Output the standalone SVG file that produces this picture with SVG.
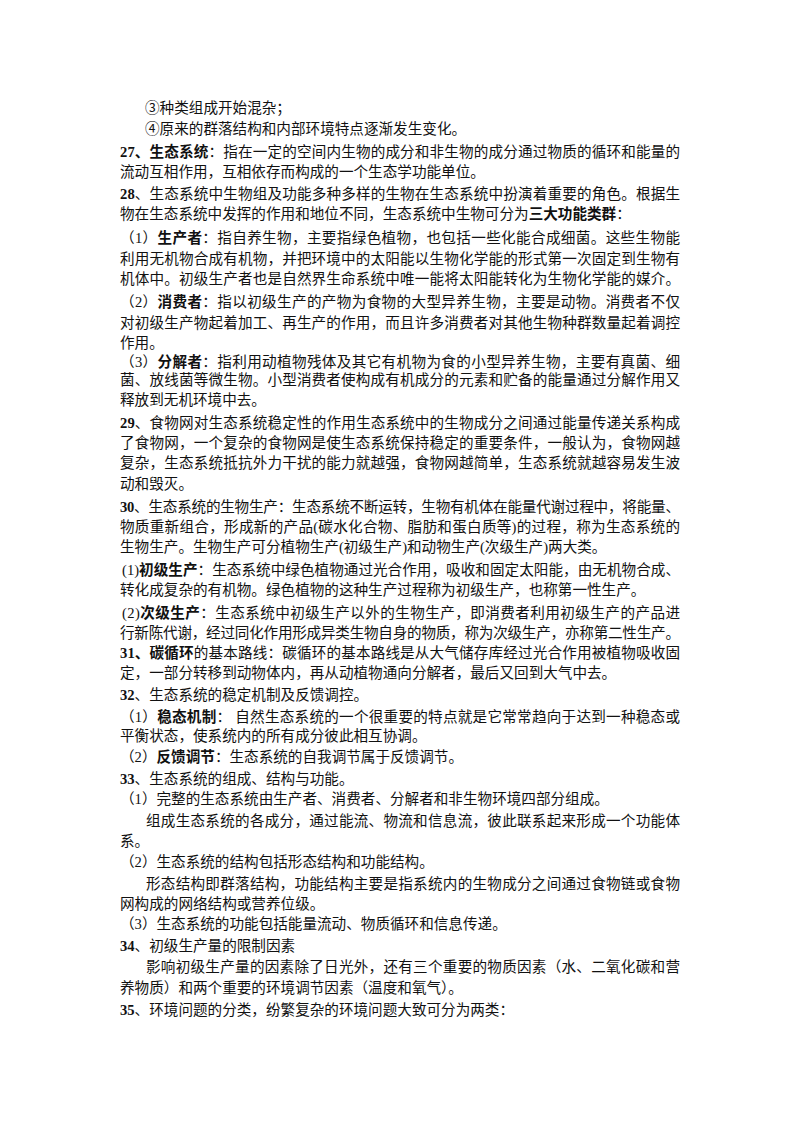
<svg xmlns="http://www.w3.org/2000/svg" width="800" height="1132" viewBox="0 0 800 1132">
<style>
text{font-family:"Liberation Serif","Noto Sans CJK SC",serif;font-size:14.6px;fill:#111}
.b{font-weight:bold}
</style>
<rect width="800" height="1132" fill="#fff"/>
<g id="text">
<text x="145" y="113">③种类组成开始混杂；</text>
<text x="145" y="134">④原来的群落结构和内部环境特点逐渐发生变化。</text>
<text x="120" y="157" textLength="560" lengthAdjust="spacing"><tspan class="b">27、生态系统</tspan>：指在一定的空间内生物的成分和非生物的成分通过物质的循环和能量的</text>
<text x="120" y="177">流动互相作用，互相依存而构成的一个生态学功能单位。</text>
<text x="120" y="199" textLength="560" lengthAdjust="spacing"><tspan class="b">28</tspan>、生态系统中生物组及功能多种多样的生物在生态系统中扮演着重要的角色。根据生</text>
<text x="120" y="219">物在生态系统中发挥的作用和地位不同，生态系统中生物可分为<tspan class="b">三大功能类群</tspan>：</text>
<text x="120" y="243" textLength="560" lengthAdjust="spacing">（1）<tspan class="b">生产者</tspan>：指自养生物，主要指绿色植物，也包括一些化能合成细菌。这些生物能</text>
<text x="120" y="264" textLength="560" lengthAdjust="spacing">利用无机物合成有机物，并把环境中的太阳能以生物化学能的形式第一次固定到生物有</text>
<text x="120" y="284" textLength="560" lengthAdjust="spacing">机体中。初级生产者也是自然界生命系统中唯一能将太阳能转化为生物化学能的媒介。</text>
<text x="120" y="307" textLength="560" lengthAdjust="spacing">（2）<tspan class="b">消费者</tspan>：指以初级生产的产物为食物的大型异养生物，主要是动物。消费者不仅</text>
<text x="120" y="328" textLength="560" lengthAdjust="spacing">对初级生产物起着加工、再生产的作用，而且许多消费者对其他生物种群数量起着调控</text>
<text x="120" y="348">作用。</text>
<text x="120" y="367" textLength="560" lengthAdjust="spacing">（3）<tspan class="b">分解者</tspan>：指利用动植物残体及其它有机物为食的小型异养生物，主要有真菌、细</text>
<text x="120" y="385" textLength="560" lengthAdjust="spacing">菌、放线菌等微生物。小型消费者使构成有机成分的元素和贮备的能量通过分解作用又</text>
<text x="120" y="405">释放到无机环境中去。</text>
<text x="120" y="428" textLength="560" lengthAdjust="spacing"><tspan class="b">29</tspan>、食物网对生态系统稳定性的作用生态系统中的生物成分之间通过能量传递关系构成</text>
<text x="120" y="448" textLength="560" lengthAdjust="spacing">了食物网，一个复杂的食物网是使生态系统保持稳定的重要条件，一般认为，食物网越</text>
<text x="120" y="468" textLength="560" lengthAdjust="spacing">复杂，生态系统抵抗外力干扰的能力就越强，食物网越简单，生态系统就越容易发生波</text>
<text x="120" y="489">动和毁灭。</text>
<text x="120" y="512" textLength="560" lengthAdjust="spacing"><tspan class="b">30</tspan>、生态系统的生物生产：生态系统不断运转，生物有机体在能量代谢过程中，将能量、</text>
<text x="120" y="532" textLength="560" lengthAdjust="spacing">物质重新组合，形成新的产品(碳水化合物、脂肪和蛋白质等)的过程，称为生态系统的</text>
<text x="120" y="552">生物生产。生物生产可分植物生产(初级生产)和动物生产(次级生产)两大类。</text>
<text x="122" y="575" textLength="558" lengthAdjust="spacing">(1)<tspan class="b">初级生产</tspan>：生态系统中绿色植物通过光合作用，吸收和固定太阳能，由无机物合成、</text>
<text x="120" y="595">转化成复杂的有机物。绿色植物的这种生产过程称为初级生产，也称第一性生产。</text>
<text x="122" y="618" textLength="558" lengthAdjust="spacing">(2)<tspan class="b">次级生产</tspan>：生态系统中初级生产以外的生物生产，即消费者利用初级生产的产品进</text>
<text x="120" y="638" textLength="560" lengthAdjust="spacing">行新陈代谢，经过同化作用形成异类生物自身的物质，称为次级生产，亦称第二性生产。</text>
<text x="120" y="658" textLength="560" lengthAdjust="spacing"><tspan class="b">31、碳循环</tspan>的基本路线：碳循环的基本路线是从大气储存库经过光合作用被植物吸收固</text>
<text x="120" y="678">定，一部分转移到动物体内，再从动植物通向分解者，最后又回到大气中去。</text>
<text x="120" y="700"><tspan class="b">32</tspan>、生态系统的稳定机制及反馈调控。</text>
<text x="120" y="722" textLength="560" lengthAdjust="spacing">（1）<tspan class="b">稳态机制</tspan>： 自然生态系统的一个很重要的特点就是它常常趋向于达到一种稳态或</text>
<text x="120" y="741">平衡状态，使系统内的所有成分彼此相互协调。</text>
<text x="120" y="762">（2）<tspan class="b">反馈调节</tspan>：生态系统的自我调节属于反馈调节。</text>
<text x="120" y="784"><tspan class="b">33</tspan>、生态系统的组成、结构与功能。</text>
<text x="120" y="804">（1）完整的生态系统由生产者、消费者、分解者和非生物环境四部分组成。</text>
<text x="146" y="826" textLength="534" lengthAdjust="spacing">组成生态系统的各成分，通过能流、物流和信息流，彼此联系起来形成一个功能体</text>
<text x="120" y="846">系。</text>
<text x="120" y="867">（2）生态系统的结构包括形态结构和功能结构。</text>
<text x="146" y="889" textLength="534" lengthAdjust="spacing">形态结构即群落结构，功能结构主要是指系统内的生物成分之间通过食物链或食物</text>
<text x="120" y="909">网构成的网络结构或营养位级。</text>
<text x="120" y="929">（3）生态系统的功能包括能量流动、物质循环和信息传递。</text>
<text x="120" y="951"><tspan class="b">34</tspan>、初级生产量的限制因素</text>
<text x="146" y="972" textLength="534" lengthAdjust="spacing">影响初级生产量的因素除了日光外，还有三个重要的物质因素（水、二氧化碳和营</text>
<text x="120" y="993">养物质）和两个重要的环境调节因素（温度和氧气）。</text>
<text x="120" y="1015"><tspan class="b">35</tspan>、环境问题的分类，纷繁复杂的环境问题大致可分为两类：</text>
</g>
</svg>
